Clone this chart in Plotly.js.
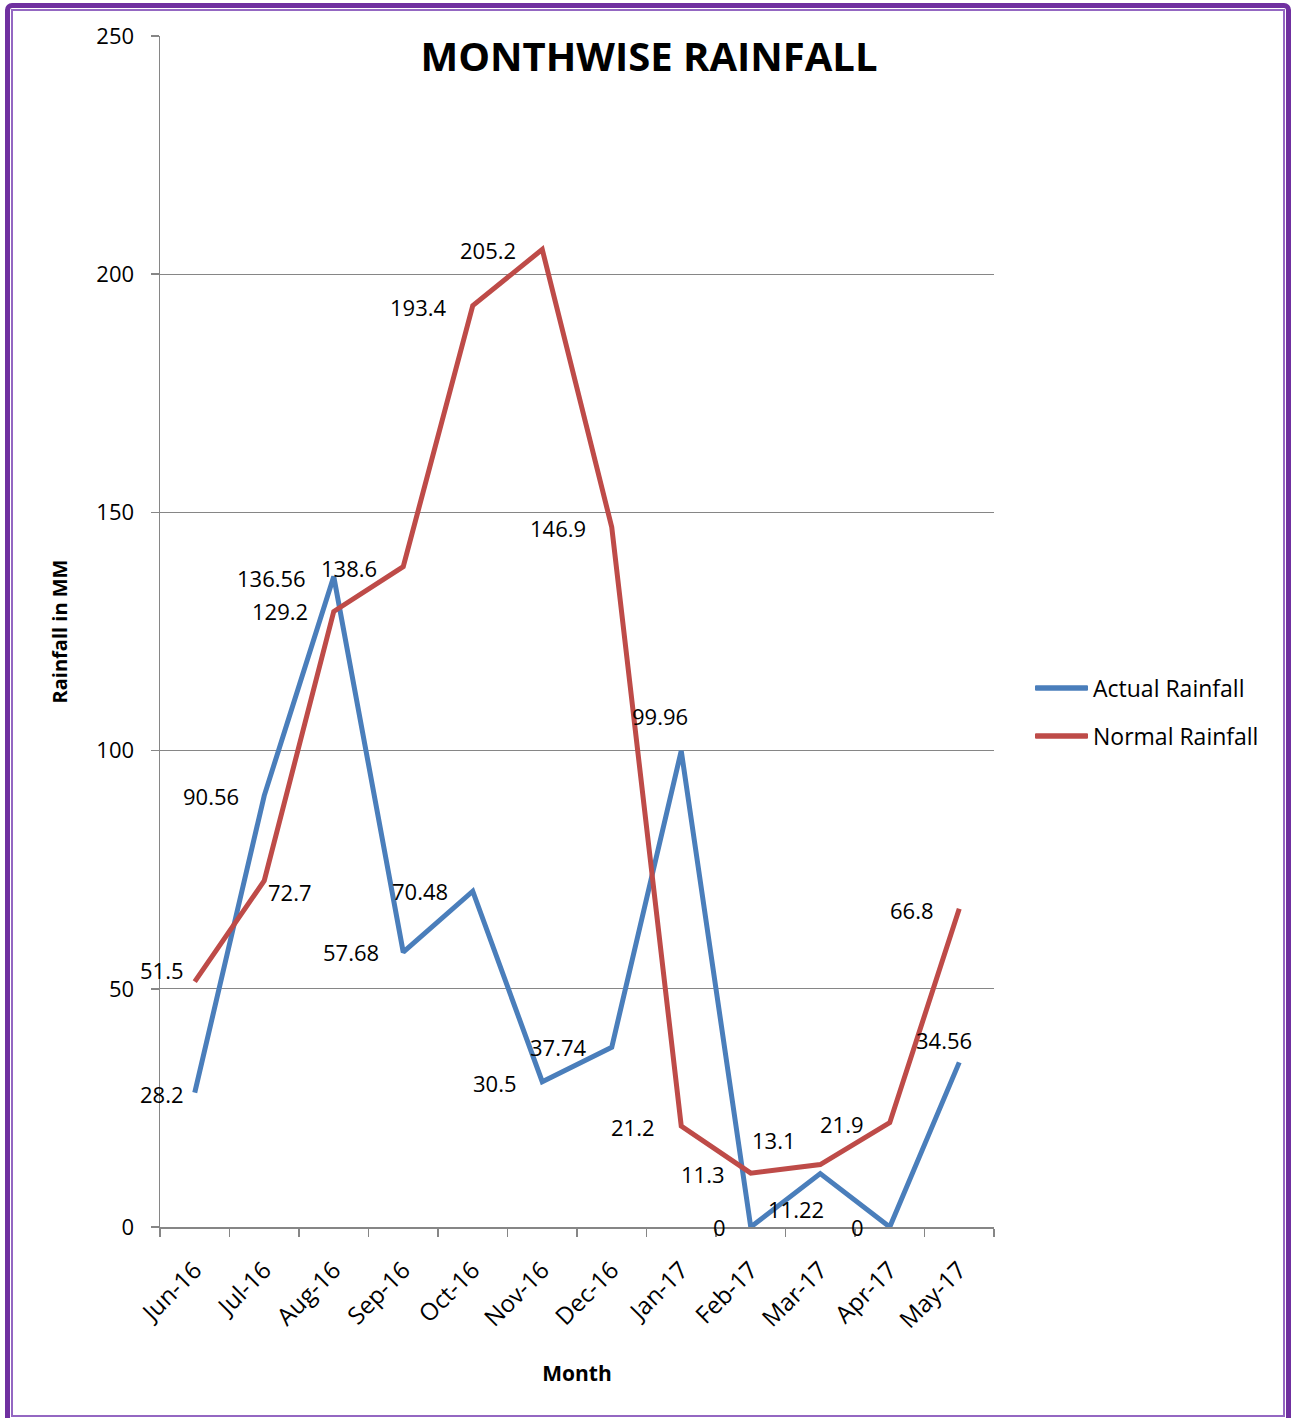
<!DOCTYPE html>
<html>
<head>
<meta charset="utf-8">
<script src="https://cdn.plot.ly/plotly-3.0.1.min.js"></script>
<style>
  html, body { margin: 0; padding: 0; background: #ffffff; overflow: hidden; }
  #wrap { position: relative; width: 1291px; height: 1418px; }
  #chart { position: absolute; left: 0; top: 0; width: 1291px; height: 1418px; }
  .frame { position: absolute; box-sizing: border-box; pointer-events: none; z-index: 10; }
  #outer { left: 5px; top: 3px; width: 1286px; height: 1430px; border: 5px solid #7030A0; border-radius: 7px; }
  #inner { left: 11px; top: 9px; width: 1274px; height: 1408px; border: 2px solid #9467C2; }
</style>
</head>
<body>
<div id="wrap">
  <div id="chart"></div>
  <div id="outer" class="frame"></div>
  <div id="inner" class="frame"></div>
</div>
<script>
// ---- Data ----
var months = ["Jun-16","Jul-16","Aug-16","Sep-16","Oct-16","Nov-16","Dec-16","Jan-17","Feb-17","Mar-17","Apr-17","May-17"];
var actualRainfall = [28.2, 90.56, 136.56, 57.68, 70.48, 30.5, 37.74, 99.96, 0, 11.22, 0, 34.56];
var normalRainfall = [51.5, 72.7, 129.2, 138.6, 193.4, 205.2, 146.9, 21.2, 11.3, 13.1, 21.9, 66.8];
var yTicks = [0, 50, 100, 150, 200, 250];

// ---- Label placement (style only) ----
var actualAnchor = ["right","right","right","right","right","right","right","center","right","center","right","center"];
var actualDx     = [-9, -23, -26, -22, -23, -23, -23, -21, -23, -24, -24, -15];
var actualDy     = [-1, 0, -2, 0, 0, -1, 0, 35, 0, -35, 0, 22];
var normalAnchor = ["right","left","right","right","right","right","right","right","right","right","right","right"];
var normalDx     = [-9, 2, -24, -24, -24, -24, -24, -24, -24, -22, -24, -23];
var normalDy     = [12, -11, 0, -1, -1, -1, -1, -1, -1, 25, -1, -1];

var FONT = "Open Sans, Noto Sans, Liberation Sans, sans-serif";
var BLUE = "#4A7EBB";
var RED = "#BE4B48";
var GRID = "#868686";

var traces = [
  { x: months, y: actualRainfall, type: "scatter", mode: "lines", name: "Actual Rainfall",
    line: { color: BLUE, width: 5 }, legend: "legend", hoverinfo: "x+y+name" },
  { x: months, y: normalRainfall, type: "scatter", mode: "lines", name: "Normal Rainfall",
    line: { color: RED, width: 5 }, legend: "legend2", hoverinfo: "x+y+name" }
];

var annotations = [];
function addLabels(vals, anchors, dx, dy) {
  for (var i = 0; i < vals.length; i++) {
    annotations.push({
      x: months[i], y: vals[i], xref: "x", yref: "y",
      text: String(vals[i]), showarrow: false,
      xanchor: anchors[i], yanchor: "middle",
      xshift: dx[i], yshift: dy[i],
      font: { family: FONT, size: 22, color: "#000000" }
    });
  }
}
addLabels(actualRainfall, actualAnchor, actualDx, actualDy);
addLabels(normalRainfall, normalAnchor, normalDx, normalDy);

// legend geometry (pixels -> paper)
function px2x(px) { return (px - 160) / 834; }
function px2y(py) { return (1227 - py) / 1191; }
var legendRows = [688, 736];
var legendColors = [BLUE, RED];
var shapes = legendRows.map(function (py, i) {
  return { type: "line", xref: "paper", yref: "paper",
    x0: px2x(1036), x1: px2x(1087), y0: px2y(py), y1: px2y(py),
    line: { color: legendColors[i], width: 5 }, layer: "above" };
});

var layout = {
  width: 1291, height: 1418,
  margin: { l: 160, r: 297, t: 36, b: 191, pad: 0 },
  paper_bgcolor: "#ffffff", plot_bgcolor: "#ffffff",
  font: { family: FONT, size: 22, color: "#000000" },
  title: {
    text: "<b>MONTHWISE RAINFALL</b>",
    font: { family: FONT, size: 40, color: "#000000" },
    xref: "container", yref: "container",
    x: 649 / 1291, y: 1 - 57 / 1418, xanchor: "center", yanchor: "middle"
  },
  xaxis: {
    type: "category",
    range: [-0.5, 11.5],
    tickson: "boundaries",
    ticks: "outside", ticklen: 8, tickwidth: 1.5, tickcolor: GRID,
    showline: true, linecolor: GRID, linewidth: 1.5,
    showgrid: false, zeroline: false,
    tickangle: -45,
    tickfont: { family: FONT, size: 24, color: "#000000" },
    ticklabelstandoff: 18,
    title: { text: "<b>Month</b>", font: { family: FONT, size: 21, color: "#000000" }, standoff: 32 },
    fixedrange: true
  },
  yaxis: {
    range: [0, 250],
    tickvals: yTicks,
    ticktext: yTicks.map(String),
    ticks: "outside", ticklen: 8, tickwidth: 1.5, tickcolor: GRID,
    showline: true, linecolor: GRID, linewidth: 1.5,
    showgrid: true, gridcolor: GRID, gridwidth: 1.3,
    zeroline: false,
    tickfont: { family: FONT, size: 22, color: "#000000" },
    ticklabelstandoff: 12,
    title: { text: "<b>Rainfall in MM</b>", font: { family: FONT, size: 20, color: "#000000" }, standoff: 23 },
    fixedrange: true
  },
  showlegend: true,
  legend: {
    x: px2x(1030), xanchor: "left",
    y: px2y(legendRows[0]), yanchor: "middle",
    itemwidth: 53,
    bgcolor: "rgba(0,0,0,0)", borderwidth: 0,
    font: { family: FONT, size: 23, color: "#000000" }
  },
  legend2: {
    x: px2x(1030), xanchor: "left",
    y: px2y(legendRows[1]), yanchor: "middle",
    itemwidth: 53,
    bgcolor: "rgba(0,0,0,0)", borderwidth: 0,
    font: { family: FONT, size: 23, color: "#000000" }
  },
  shapes: shapes,
  annotations: annotations
};

Plotly.newPlot("chart", traces, layout, { displayModeBar: false, staticPlot: true });
</script>
</body>
</html>
